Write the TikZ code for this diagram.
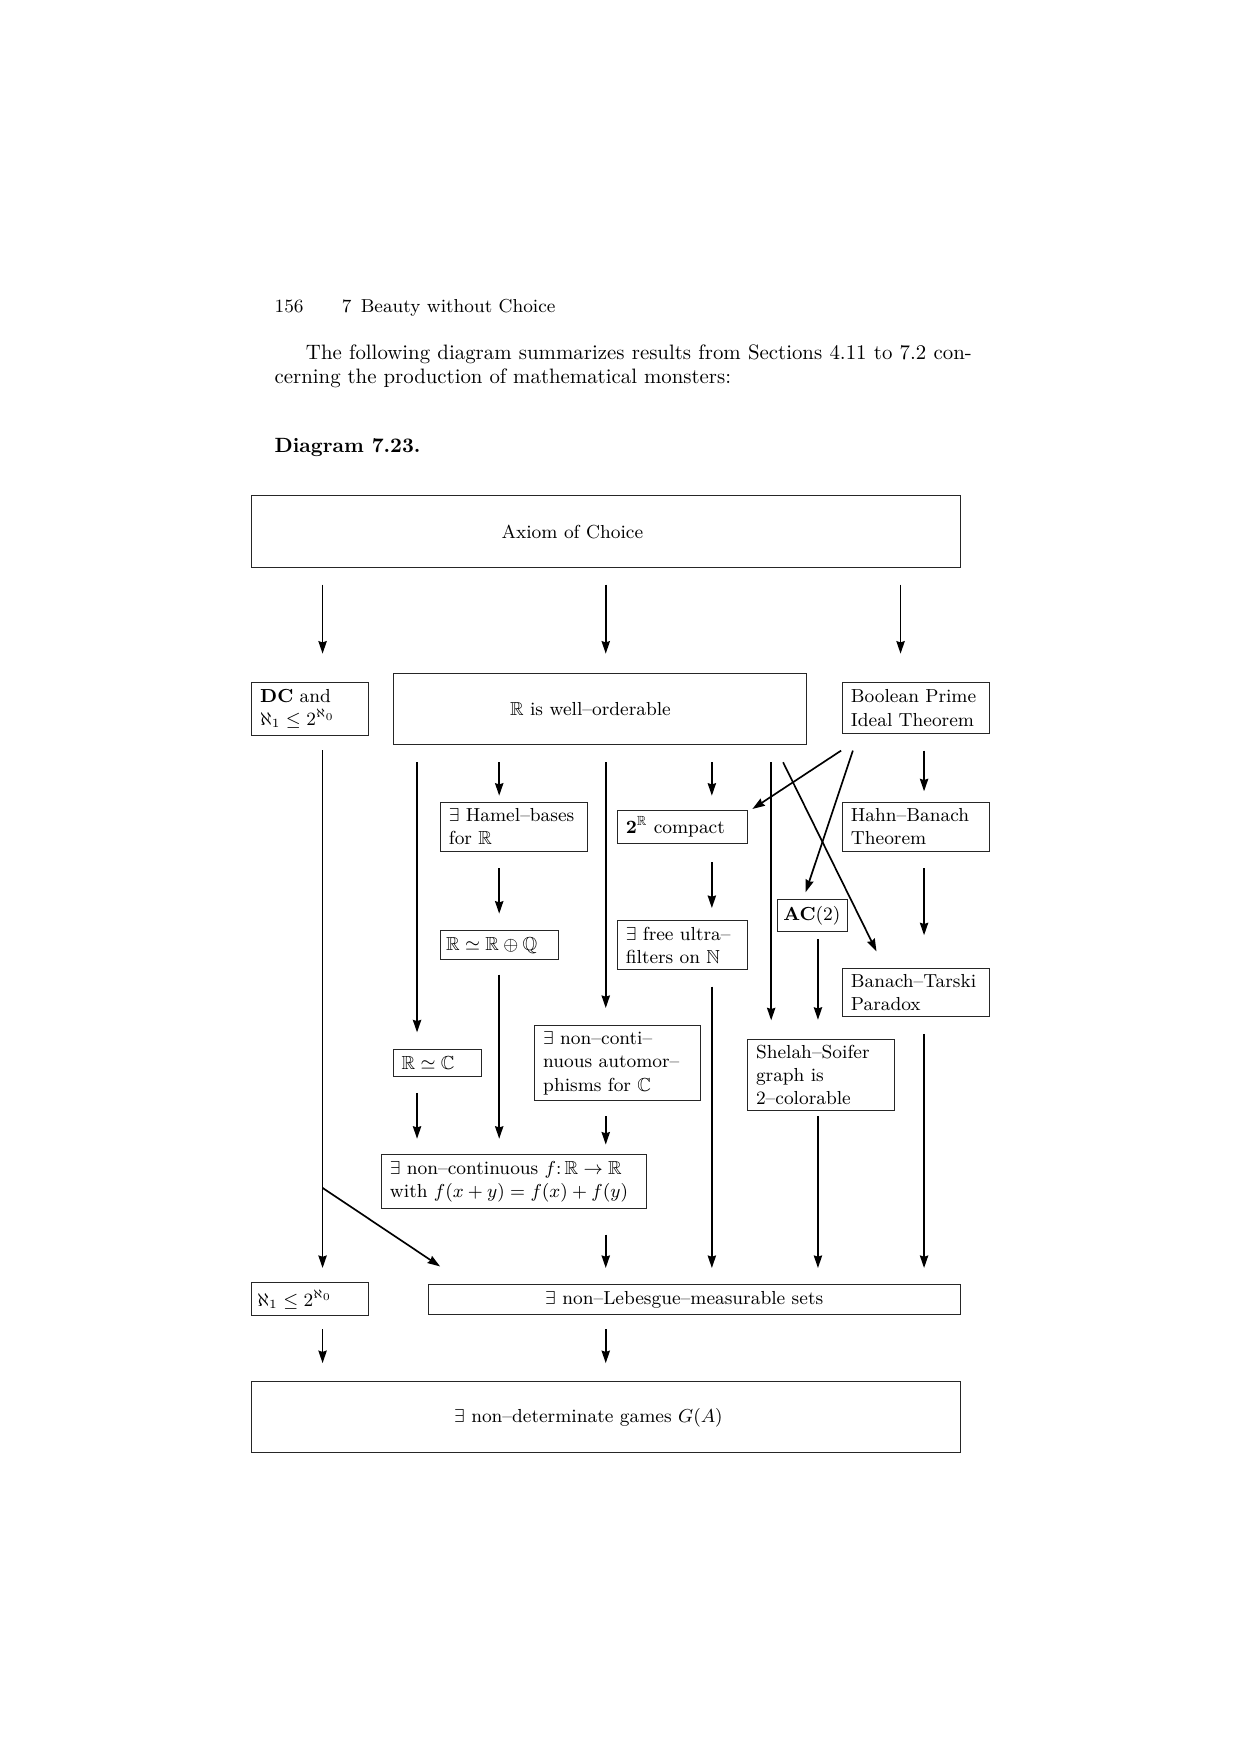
\documentclass[tikz,border=0pt]{standalone}
\usepackage{amssymb}
\usetikzlibrary{arrows.meta}
\newcommand\dfont{\fontsize{9.05}{11.2}\selectfont}
\newcommand\bodyfont{\fontsize{10}{11.8}\selectfont}
\begin{document}
\begin{tikzpicture}[x=0.5372pt, y=-0.5372pt, font=\dfont,
  box/.style={draw=black!85, line width=0.45pt, inner xsep=4pt, inner ysep=0pt, align=left},
  arr/.style={line width=0.8pt, -{Stealth[length=6pt, width=4pt, inset=0.6pt]}},
  every label/.style={font=\dfont, inner sep=0pt},
  plain/.style={inner sep=0pt, anchor=base west}]
\useasboundingbox (0,0) rectangle (1108,1568);
\fill[white] (0,0) rectangle (1108,1568);

% page text
\node[plain, font=\fontsize{9.0}{11}\selectfont] (pg) at (245,279.5) {156};
\node[plain, font=\fontsize{9.0}{11}\selectfont] (rh) at (305,279.5) {7\enspace Beauty without Choice};
\node[plain, font=\bodyfont] (p1) at (273,321) {\makebox[319.6pt][s]{The following diagram summarizes results from Sections 4.11 to 7.2 con-}};
\node[plain, font=\bodyfont] (p2) at (245,343) {cerning the production of mathematical monsters:};
\node[plain, font=\fontsize{9.9}{11.5}\selectfont\bfseries] (dg) at (245,404) {Diagram 7.23.};

% column positions
\coordinate (c1) at (288.2,0);
\coordinate (c2) at (372.6,0);
\coordinate (c3) at (446,0);
\coordinate (c4) at (541.2,0);
\coordinate (c5) at (636,0);
\coordinate (c6) at (689,0);
\coordinate (c7) at (730.8,0);
\coordinate (c8) at (804.6,0);
\coordinate (c9) at (825.6,0);

% boxes
\node[box, minimum width=340.05pt, minimum height=34.38pt,
  label={[name=act, xshift=-16.17pt]center:Axiom of Choice}] (ac) at (541.5,475) {};
\node[box, text width=48.19pt, minimum width=56.19pt, minimum height=25.30pt] (dc) at (277.3,633.25) {\textbf{DC} and\\ $\aleph_1\le 2^{\aleph_0}$};
\node[box, minimum width=198.12pt, minimum height=33.90pt,
  label={[name=wot, xshift=-4.46pt]center:$\mathbb{R}$ is well--orderable}] (wo) at (535.8,633.25) {};
\node[box, text width=62.48pt, minimum width=70.48pt, minimum height=24.50pt] (bpi) at (818.4,632.5) {Boolean Prime\\Ideal Theorem};
\node[box, text width=62.64pt, minimum width=70.64pt, minimum height=23.64pt] (hamel) at (459.35,738.7) {$\exists$ Hamel--bases\\for $\mathbb{R}$};
\node[box, text width=54.26pt, minimum width=62.26pt, minimum height=16.01pt] (comp) at (609.65,738.7) {$\mathbf{2}^{\mathbb{R}}$ compact};
\node[box, text width=62.48pt, minimum width=70.48pt, minimum height=23.64pt] (hb) at (818.4,738.7) {Hahn--Banach\\Theorem};
\node[box, inner xsep=2.69pt, text width=51.24pt, minimum width=56.62pt, minimum height=13.75pt] (rq) at (446.3,844.4) {$\mathbb{R}\simeq\mathbb{R}\oplus\mathbb{Q}$};
\node[box, text width=54.26pt, minimum width=62.26pt, minimum height=23.37pt] (uf) at (609.65,844.45) {$\exists$ free ultra--\\filters on $\mathbb{N}$};
\node[box, inner xsep=2.8pt, text width=27.9pt, minimum width=33.52pt, minimum height=15.53pt] (ac2) at (725.8,818) {\textbf{AC}(2)};
\node[box, text width=62.48pt, minimum width=70.48pt, minimum height=23.37pt] (bt) at (818.4,886.75) {Banach--Tarski\\Paradox};
\node[box, text width=34.39pt, minimum width=42.39pt, minimum height=12.84pt] (rc) at (390.85,949.55) {$\mathbb{R}\simeq\mathbb{C}$};
\node[box, text width=71.24pt, minimum width=79.24pt, minimum height=36.37pt] (aut) at (551.65,949.75) {$\exists$ non--conti--\\nuous automor--\\phisms for $\mathbb{C}$};
\node[box, text width=62.64pt, minimum width=70.64pt, minimum height=34.43pt] (ss) at (733.75,960.45) {Shelah--Soifer\\graph is\\2--colorable};
\node[box, text width=119.26pt, minimum width=127.26pt, minimum height=25.89pt] (fx) at (459.35,1055.6) {$\exists$ non--continuous $f\colon\mathbb{R}\to\mathbb{R}$\\with $f(x+y)=f(x)+f(y)$};
\node[box, inner xsep=2.7pt, text width=50.8pt, minimum width=56.19pt, minimum height=15.90pt] (al) at (277.3,1160.8) {$\aleph_1\le 2^{\aleph_0}$};
\node[box, minimum width=255.17pt, minimum height=14.24pt,
  label={[name=lebt, xshift=-5pt]center:$\exists$ non--Lebesgue--measurable sets}] (leb) at (620.6,1160.95) {};
\node[box, minimum width=340.05pt, minimum height=34.06pt,
  label={[name=gat, xshift=-8.49pt]center:$\exists$ non--determinate games $G(A)$}] (ga) at (541.5,1266.3) {};

% arrows from Axiom of Choice
\draw[arr, shorten <=8.06pt, shorten >=13.59pt] (ac.south -| c1) -- (dc.north -| c1);
\draw[arr, shorten <=8.06pt, shorten >=9.29pt] (ac.south -| c4) -- (wo.north -| c4);
\draw[arr, shorten <=8.06pt, shorten >=13.59pt] (ac.south -| c8) -- (bpi.north -| c8);

% DC column
\draw[arr, shorten <=7.09pt, shorten >=6.82pt] (dc.south -| c1) -- (al.north -| c1);
\coordinate (br) at (288.2,1061.3);
\draw[arr] (br) -- ([shift={(10.5,-15.8)}]leb.north west);

% from R well-orderable
\draw[arr, shorten <=8.49pt, shorten >=7.95pt] (wo.south -| c2) -- (rc.north -| c2);
\draw[arr, shorten <=8.49pt, shorten >=2.90pt] (wo.south -| c3) -- (hamel.north -| c3);
\draw[arr, shorten <=8.49pt, shorten >=8.00pt] (wo.south -| c4) -- (aut.north -| c4);
\draw[arr, shorten <=8.49pt, shorten >=6.72pt] (wo.south -| c5) -- (comp.north -| c5);
\draw[arr, shorten <=8.49pt, shorten >=8.81pt] (wo.south -| c6) -- (ss.north -| c6);
\draw[arr] ([shift={(-21,15.8)}]wo.south east) -- ([shift={(30.7,-14.6)}]bt.north west);

% from BPI
\draw[arr] ([shift={(-0.9,14.9)}]bpi.south west) -- ([shift={(4.2,-0.6)}]comp.north east);
\draw[arr] ([shift={(9.6,14.9)}]bpi.south west) -- ([shift={(25.6,-6)}]ac2.north west);
\draw[arr, shorten <=8.00pt, shorten >=5.00pt] (bpi.south -| c9) -- (hb.north -| c9);

% middle rows
\draw[arr, shorten <=7.84pt, shorten >=8.00pt] (hamel.south -| c3) -- (rq.north -| c3);
\draw[arr, shorten <=8.81pt, shorten >=5.91pt] (comp.south -| c5) -- (uf.north -| c5);
\draw[arr, shorten <=7.84pt, shorten >=15.58pt] (hb.south -| c9) -- (bt.north -| c9);
\draw[arr, shorten <=3.49pt, shorten >=9.08pt] (ac2.south -| c7) -- (ss.north -| c7);

\draw[arr, shorten <=7.09pt, shorten >=7.36pt] (rq.south -| c3) -- (fx.north -| c3);
\draw[arr, shorten <=7.95pt, shorten >=7.74pt] (uf.south -| c5) -- (leb.north -| c5);
\draw[arr, shorten <=8.00pt, shorten >=7.74pt] (bt.south -| c9) -- (leb.north -| c9);
\draw[arr, shorten <=7.79pt, shorten >=7.36pt] (rc.south -| c2) -- (fx.north -| c2);
\draw[arr, shorten <=7.20pt, shorten >=4.57pt] (aut.south -| c4) -- (fx.north -| c4);
\draw[arr, shorten <=2.42pt, shorten >=7.74pt] (ss.south -| c7) -- (leb.north -| c7);
\draw[arr, shorten <=12.36pt, shorten >=7.74pt] (fx.south -| c4) -- (leb.north -| c4);

% bottom
\draw[arr, shorten <=6.12pt, shorten >=8.76pt] (al.south -| c1) -- (ga.north -| c1);
\draw[arr, shorten <=6.88pt, shorten >=8.76pt] (leb.south -| c4) -- (ga.north -| c4);
\end{tikzpicture}
\end{document}
